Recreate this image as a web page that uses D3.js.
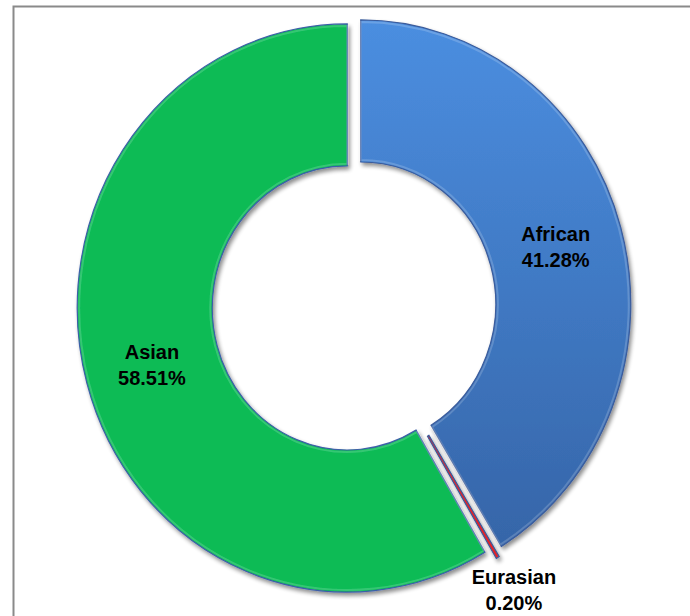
<!DOCTYPE html>
<html>
<head>
<meta charset="utf-8">
<script src="https://cdn.jsdelivr.net/npm/d3@7/dist/d3.min.js"></script>
<style>
  html, body { margin: 0; padding: 0; background: #ffffff; }
  svg { display: block; }
  text { font-family: "Liberation Sans", Arial, sans-serif; font-weight: bold; }
</style>
</head>
<body>
<svg id="chart" width="690" height="616"></svg>
<script>
// Population share by origin
const categories = ["African", "Eurasian", "Asian"];
const values = [41.28, 0.20, 58.51];
const labels = ["41.28%", "0.20%", "58.51%"];

const W = 690, H = 616;
const cx = 354, cy = 306;
const rOuter = 270, rInner = 135, yStretch = 1.052;
const explode = [7, 9, 7];
const fills = ["url(#blueGrad)", "#e0242a", "#0abb55"];
const strokes = ["#3b5c9c", "#3b5c9c", "#3d5fa8"];

const svg = d3.select("#chart");
const defs = svg.append("defs");

const g1 = defs.append("linearGradient").attr("id", "blueGrad")
  .attr("gradientUnits", "userSpaceOnUse")
  .attr("x1", 0).attr("y1", -rOuter).attr("x2", 0).attr("y2", rOuter);
g1.append("stop").attr("offset", "0%").attr("stop-color", "#4b8ee0");
g1.append("stop").attr("offset", "100%").attr("stop-color", "#3462a4");

const sh = defs.append("filter").attr("id", "shadow")
  .attr("x", "-10%").attr("y", "-10%").attr("width", "120%").attr("height", "120%");
sh.append("feGaussianBlur").attr("in", "SourceAlpha").attr("stdDeviation", 2).attr("result", "b");
sh.append("feOffset").attr("in", "b").attr("dx", 2).attr("dy", 3).attr("result", "o");
sh.append("feComponentTransfer").attr("in", "o").attr("result", "s")
  .append("feFuncA").attr("type", "linear").attr("slope", 0.45);
const mg = sh.append("feMerge");
mg.append("feMergeNode").attr("in", "s");
mg.append("feMergeNode").attr("in", "SourceGraphic");

// frame
svg.append("rect")
  .attr("x", 13.5).attr("y", 6.5).attr("width", 720).attr("height", 720)
  .attr("fill", "none").attr("stroke", "#8a8a8a").attr("stroke-width", 2);

const pie = d3.pie().sort(null).value(d => d)
  .startAngle(0).endAngle(2 * Math.PI);
const arcs = pie(values);

const arc = d3.arc().innerRadius(rInner).outerRadius(rOuter);
const bevel = d3.arc().innerRadius(rInner + 2).outerRadius(rOuter - 2);

function offset(d, i) {
  const a = (d.startAngle + d.endAngle) / 2;
  return [Math.sin(a) * explode[i], -Math.cos(a) * explode[i] * yStretch];
}

const slices = svg.append("g").selectAll("g.slice").data(arcs).join("g")
  .attr("class", "slice")
  .attr("filter", "url(#shadow)")
  .attr("transform", (d, i) => {
    const [ox, oy] = offset(d, i);
    return `translate(${cx + ox},${cy + oy}) scale(1,${yStretch})`;
  });

slices.append("path")
  .attr("d", arc)
  .attr("fill", (d, i) => fills[i])
  .attr("stroke", (d, i) => strokes[i])
  .attr("stroke-width", 1.2)
  .attr("vector-effect", "non-scaling-stroke");

// soft inner highlight along the slice edges
slices.filter((d, i) => i !== 1).append("path")
  .attr("d", bevel)
  .attr("fill", "none")
  .attr("stroke", "#ffffff")
  .attr("stroke-opacity", 0.18)
  .attr("stroke-width", 2)
  .attr("vector-effect", "non-scaling-stroke");

// labels
const labelArc = d3.arc().innerRadius(rInner).outerRadius(rOuter);
const outerLabelArc = d3.arc().innerRadius(rOuter + 50).outerRadius(rOuter + 50);

arcs.forEach((d, i) => {
  const [ox, oy] = offset(d, i);
  let px, py;
  if (i === 1) {
    const c = outerLabelArc.centroid(d);
    px = cx + c[0] - 5; py = cy + c[1] * yStretch - 6;
  } else {
    const c = labelArc.centroid(d);
    px = cx + ox + c[0]; py = cy + oy + c[1] * yStretch;
  }
  const t = svg.append("text")
    .attr("text-anchor", "middle")
    .attr("font-size", 20)
    .attr("fill", "#000");
  t.append("tspan").attr("x", px).attr("y", py - 5).text(categories[i]);
  t.append("tspan").attr("x", px).attr("y", py + 21).text(labels[i]);
});
</script>
</body>
</html>
